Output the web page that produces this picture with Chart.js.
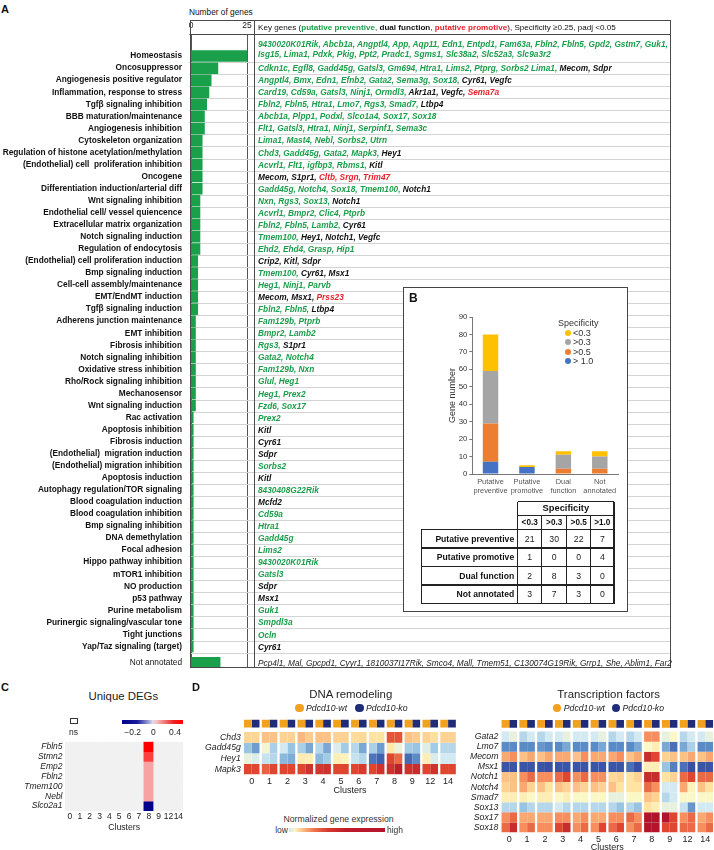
<!DOCTYPE html>
<html><head><meta charset="utf-8">
<script src="https://cdn.jsdelivr.net/npm/chart.js@4.4.1/dist/chart.umd.min.js"></script>
<style>
html,body{margin:0;padding:0;width:714px;height:850px;overflow:hidden;background:#fff;}
body{position:relative;font-family:'Liberation Sans',Arial,Helvetica,sans-serif;color:#111;}
.t{position:absolute;white-space:nowrap;line-height:1;}
canvas{position:absolute;}
.g{color:#1b9e4b}.k{color:#111}.r{color:#e8222e}.n{color:#222;font-weight:normal}
</style></head><body>
<script>
// ---------------- DATA ----------------
const aCategories = ['Homeostasis','Oncosuppressor','Angiogenesis positive regulator','Inflammation, response to stress',
 'Tgf\u03b2 signaling inhibition','BBB maturation/maintenance','Angiogenesis inhibition','Cytoskeleton organization',
 'Regulation of histone acetylation/methylation','(Endothelial) cell  proliferation inhibition','Oncogene',
 'Differentiation induction/arterial diff','Wnt signaling inhibition','Endothelial cell/ vessel quiencence',
 'Extracellular matrix organization','Notch signaling induction','Regulation of endocytosis',
 '(Endothelial) cell proliferation induction','Bmp signaling induction','Cell-cell assembly/maintenance',
 'EMT/EndMT induction','Tgf\u03b2 signaling induction','Adherens junction maintenance','EMT inhibition',
 'Fibrosis inhibition','Notch signaling inhibition','Oxidative stress inhibition','Rho/Rock signaling inhibition',
 'Mechanosensor','Wnt signaling induction','Rac activation','Apoptosis inhibition','Fibrosis induction',
 '(Endothelial)  migration induction','(Endothelial) migration inhibition','Apoptosis induction',
 'Autophagy regulation/TOR signaling','Blood coagulation induction','Blood coagulation inhibition',
 'Bmp signaling inhibition','DNA demethylation','Focal adhesion','Hippo pathway inhibition','mTOR1 inhibition',
 'NO production','p53 pathway','Purine metabolism','Purinergic signaling/vascular tone','Tight junctions',
 'Yap/Taz signaling (target)','Not annotated'];
const aGeneCounts = [25,12,9,8,7,6,6,5,5,5,5,5,4,4,4,4,4,3,3,3,3,3,2,2,2,2,2,2,2,2,
 1,1,1,1,1,1,1,1,1,1,1,1,1,1,1,1,1,1,1,1,13];
const aXTicks = [0, 25];
const aKeyGenes = [
 'g:9430020K01Rik, Abcb1a, Angptl4, App, Aqp11, Edn1, Entpd1, Fam63a, Fbln2, Fbln5, Gpd2, Gstm7, Guk1,\ng:Isg15, Lima1, Pdxk, Pkig, Ppt2, Pradc1, Sgms1, Slc38a2, Slc52a3, Slc9a3r2',
 'g:Cdkn1c, Egfl8, Gadd45g, Gatsl3, Gm694, Htra1, Lims2, Ptprg, Sorbs2 Lima1, |k:Mecom, Sdpr',
 'g:Angptl4, Bmx, Edn1, Efnb2, Gata2, Sema3g, Sox18, |k:Cyr61, Vegfc',
 'g:Card19, Cd59a, Gatsl3, Ninj1, Ormdl3, |k:Akr1a1, Vegfc, |r:Sema7a',
 'g:Fbln2, Fbln5, Htra1, Lmo7, Rgs3, Smad7, |k:Ltbp4',
 'g:Abcb1a, Plpp1, Podxl, Slco1a4, Sox17, Sox18',
 'g:Flt1, Gatsl3, Htra1, Ninj1, Serpinf1, Sema3c',
 'g:Lima1, Mast4, Nebl, Sorbs2, Utrn',
 'g:Chd3, Gadd45g, Gata2, Mapk3, |k:Hey1',
 'g:Acvrl1, Flt1, igfbp3, Rbms1, |k:Kitl',
 'k:Mecom, S1pr1, |r:Cltb, Srgn, Trim47',
 'g:Gadd45g, Notch4, Sox18, Tmem100, |k:Notch1',
 'g:Nxn, Rgs3, Sox13, |k:Notch1',
 'g:Acvrl1, Bmpr2, Clic4, Ptprb',
 'g:Fbln2, Fbln5, Lamb2, |k:Cyr61',
 'g:Tmem100, |k:Hey1, Notch1, Vegfc',
 'g:Ehd2, Ehd4, Grasp, Hip1',
 'k:Crip2, Kitl, Sdpr',
 'g:Tmem100, |k:Cyr61, Msx1',
 'g:Heg1, Ninj1, Parvb',
 'k:Mecom, Msx1, |r:Prss23',
 'g:Fbln2, Fbln5, |k:Ltbp4',
 'g:Fam129b, Ptprb','g:Bmpr2, Lamb2','g:Rgs3, |k:S1pr1','g:Gata2, Notch4','g:Fam129b, Nxn','g:Glul, Heg1',
 'g:Heg1, Prex2','g:Fzd6, Sox17','g:Prex2','k:Kitl','k:Cyr61','k:Sdpr','g:Sorbs2','k:Kitl','g:8430408G22Rik',
 'k:Mcfd2','g:Cd59a','g:Htra1','g:Gadd45g','g:Lims2','g:9430020K01Rik','g:Gatsl3','k:Sdpr','k:Msx1','g:Guk1',
 'g:Smpdl3a','g:Ocln','k:Cyr61',
 'n:Pcp4l1, Mal, Gpcpd1, Cyyr1, 1810037I17Rik, Smco4, Mall, Tmem51, C130074G19Rik, Grrp1, She, Ablim1, Far2'];

const bCategories = [['Putative','preventive'],['Putative','promotive'],['Dual','function'],['Not','annotated']];
const bRowLabels = ['Putative preventive','Putative promotive','Dual function','Not annotated'];
const bColLabels = ['<0.3','>0.3','>0.5','>1.0'];
const bLegendLabels = ['<0.3','>0.3','>0.5','> 1.0'];
const bSpecLt03 = [21,1,2,3];
const bSpecGt03 = [30,0,8,7];
const bSpecGt05 = [22,0,3,3];
const bSpecGt10 = [7,4,0,0];
const bYTicks = [0,10,20,30,40,50,60,70,80,90];

const cGenes = ['Fbln5','Stmn2','Emp2','Fbln2','Tmem100','Nebl','Slco2a1'];
const cClusters = ['0','1','2','3','4','5','6','7','8','9','12','14'];
const cValues = [
 [null,null,null,null,null,null,null,null,0.45,null,null,null],
 [null,null,null,null,null,null,null,null,0.32,null,null,null],
 [null,null,null,null,null,null,null,null,0.12,null,null,null],
 [null,null,null,null,null,null,null,null,0.12,null,null,null],
 [null,null,null,null,null,null,null,null,0.12,null,null,null],
 [null,null,null,null,null,null,null,null,0.12,null,null,null],
 [null,null,null,null,null,null,null,null,-0.25,null,null,null]];
const cBarTicks = ['\u22120.2','0','0.4'];

const dClusters = ['0','1','2','3','4','5','6','7','8','9','12','14'];
const dDnaGenes = ['Chd3','Gadd45g','Hey1','Mapk3'];
const dDnaWt = [
 [6.4,7,6.5,7.2,7,6.5,6.2,6,8.8,7,6.5,6.5],
 [3,4.8,4,3.3,3.5,4.2,3.5,3.3,5.8,3.2,4.3,3.5],
 [4.5,3.8,2.8,5.6,2.8,5.5,3.8,1.6,9,1.4,5.5,4],
 [9,8.6,9,9,9.3,9,9,9,9.4,9.4,9,9]];
const dDnaKo = [
 [6.4,7,6.5,6.7,7,6.5,6.3,6,8.8,6.7,6.1,6.5],
 [2.3,3.3,3,2.5,2.5,3.2,2.5,2.3,4.6,3,3.2,3.5],
 [4.2,3.5,2.6,5.5,3.2,5.3,3.5,1.2,8.5,2,4.2,4],
 [9,9,9,9.4,9.4,9,9.2,9.4,9.8,9.5,9.4,9]];
const dTfGenes = ['Gata2','Lmo7','Mecom','Msx1','Notch1','Notch4','Smad7','Sox13','Sox17','Sox18'];
const dTfWt = [
 [4,3.5,3.5,4,4,4,3.5,3.5,8,4.5,3.5,4],
 [2,2,2.2,2,2,2,2,2,5,2.5,2.5,2],
 [7.5,7,7,7.5,7,7.5,7.5,7,9.5,6.5,7,7],
 [1,1,1,1,1,1,1,1.5,5.5,3,1.5,1],
 [7,8,8,8.5,8,8,6.3,6,9.5,6,8.5,8.5],
 [6.5,7.5,7,7,7,7,7,6,8.5,4,7.5,7],
 [5.5,5.5,5.5,5,5,5,4.5,5,7,3.5,5,5],
 [3.5,3,3.5,4,3.5,3.5,3.5,3.5,6,4.5,3.8,4],
 [8,7.5,7.5,8,7.5,7.5,8,8.5,10,10,8,7.5],
 [8.5,8,8,9,8,8,8.5,8,10,9,8.5,8]];
const dTfKo = [
 [4.5,4,4,4.5,4,4.5,4,4,8,5,4,4.5],
 [2,2,2,2.5,2,2.5,2,2.5,5.5,1.5,3.3,2],
 [8,7.5,7.5,7.5,8,7.5,8,7.5,9,7,7.5,7.5],
 [1,1,0.8,1,1,1,1,0.8,5.5,1.8,0.8,1],
 [7,8.5,8,9,8.5,8,6.5,6.5,9.5,6.5,9,8.5],
 [7,6.5,6,6.5,6.5,6.5,6,6,8,4,5.3,6],
 [5.5,5,5.5,5.5,5,5,4.5,5,6.5,4,5,5],
 [3.5,3.5,3.5,3.5,3.5,3.5,3,3,5.5,4.5,2.2,4],
 [8.5,7.5,7.5,8,8,7.5,8,8,10,9,8.5,8],
 [9.5,8.5,8,9.5,8.5,9,9,8.5,10,9,8.5,8.5]];

// ---------------- HELPERS ----------------
const FONT = "'Liberation Sans', Arial, Helvetica, sans-serif";
Chart.defaults.font.family = FONT;
Chart.defaults.color = '#111';
function addText(content, x, y, o = {}) {
  const d = document.createElement('div');
  d.className = 't';
  if (o.html) d.innerHTML = content; else d.textContent = content;
  const size = o.size || 8.3;
  d.style.left = x + 'px'; d.style.top = y + 'px';
  d.style.fontSize = size + 'px';
  d.style.fontWeight = o.weight || 'normal';
  d.style.fontStyle = o.style || 'normal';
  d.style.color = o.color || '#111';
  d.style.zIndex = o.z || 3;
  const tx = o.align === 'center' ? '-50%' : o.align === 'right' ? '-100%' : '0';
  d.style.transform = `translate(${tx},-50%)`;
  document.body.appendChild(d);
  return d;
}
function addBox(x, y, w, h, css, z) {
  const d = document.createElement('div');
  d.style.cssText = `position:absolute;left:${x}px;top:${y}px;width:${w}px;height:${h}px;z-index:${z||3};` + css;
  document.body.appendChild(d); return d;
}
function hline(x1, x2, y, w, c) { addBox(x1, y - w / 2, x2 - x1, w, `background:${c};`, 7); }
function vline(x, y1, y2, w, c) { addBox(x - w / 2, y1, w, y2 - y1, `background:${c};`, 7); }
function mkCanvas(left, top, w, h, z) {
  const c = document.createElement('canvas');
  c.width = w; c.height = h;
  c.style.left = left + 'px'; c.style.top = top + 'px';
  c.style.width = w + 'px'; c.style.height = h + 'px';
  c.style.zIndex = z;
  document.body.appendChild(c); return c;
}
function hex2rgb(h) { return [1, 3, 5].map(i => parseInt(h.slice(i, i + 2), 16)); }
function mix(a, b, f) {
  const A = hex2rgb(a), B = hex2rgb(b);
  return 'rgb(' + A.map((v, i) => Math.round(v + (B[i] - v) * f)).join(',') + ')';
}
const heatStops = ['#313695','#3a55a6','#5b8bc7','#98c3e1','#d3eaf2','#fbf8c8','#fee3a1','#fcc184','#f68e5d','#df452f','#b1152b'];
function heatColor(v) {
  const t = Math.max(0, Math.min(10, v));
  const i = Math.min(9, Math.floor(t));
  return mix(heatStops[i], heatStops[i + 1], t - i);
}
function cColor(v) {
  if (v === null) return '#f1f1f1';
  if (v >= 0) return mix('#f6dede', '#ff0000', Math.min(1, v / 0.45));
  return mix('#d8d8ee', '#00008b', Math.min(1, -v / 0.25));
}
const noPlugins = { legend: { display: false }, tooltip: { enabled: false } };
const fixW = w => s => { s.width = w; s.paddingTop = 0; s.paddingBottom = 0; };
const fixH = h => s => { s.height = h; s.paddingLeft = 0; s.paddingRight = 0; };

// ---------------- PANEL A ----------------
addText('A', 1, 9, { size: 11, weight: 'bold' });
addText('Number of genes', 189, 12, { size: 8.3 });
const aTopPx = 20, aChartTop = 34, aChartBottom = 668, aLeft = 189.5, aRight = 670;
const zeroPx = 191, pxPerGene = 2.24, rowPx = 12.05, firstRowPx = 56.1;
const aPos = aCategories.map((_, i) => i < aCategories.length - 1 ? i : i + 0.34);
const yMinA = -(firstRowPx - aChartTop) / rowPx;
const yMaxA = yMinA + (aChartBottom - aChartTop) / rowPx;
const xMinA = -(zeroPx - aLeft) / pxPerGene;
const xMaxA = xMinA + (aRight - aLeft) / pxPerGene;
const cA = mkCanvas(0, aTopPx, 672, aChartBottom - aTopPx + 1, 1);
const aFrame = {
  id: 'aFrame',
  beforeDatasetsDraw(chart) {
    const { ctx, chartArea: ca, scales: { y } } = chart;
    ctx.save(); ctx.strokeStyle = '#d3d3d3'; ctx.lineWidth = 1;
    for (let i = 0; i < aPos.length - 1; i++) {
      const py = Math.round(y.getPixelForValue(aPos[i] + 0.5)) + 0.5;
      ctx.beginPath(); ctx.moveTo(ca.left, py); ctx.lineTo(ca.right, py); ctx.stroke();
    }
    ctx.restore();
  },
  afterDraw(chart) {
    const { ctx, chartArea: ca } = chart;
    ctx.save(); ctx.strokeStyle = '#4a4a4a'; ctx.lineWidth = 1;
    ctx.strokeRect(Math.round(ca.left) + 0.5, 0.5, Math.round(ca.right - ca.left) - 1, Math.round(ca.bottom) - 1);
    ctx.beginPath(); ctx.moveTo(ca.left, Math.round(ca.top) + 0.5); ctx.lineTo(ca.right, Math.round(ca.top) + 0.5); ctx.stroke();
    ctx.beginPath(); ctx.moveTo(254.5, 0); ctx.lineTo(254.5, ca.bottom); ctx.stroke();
    ctx.restore();
  }
};
const chartA = new Chart(cA, {
  type: 'bar',
  data: { datasets: [{ data: aGeneCounts.map((v, i) => ({ x: v, y: aPos[i] })), backgroundColor: '#1aa04b', barThickness: 10.8, borderWidth: 0 }] },
  options: {
    indexAxis: 'y', responsive: false, animation: false,
    layout: { padding: { right: 2, bottom: 1 } },
    plugins: noPlugins,
    scales: {
      x: { type: 'linear', position: 'top', min: xMinA, max: xMaxA, offset: false,
        afterBuildTicks: s => { s.ticks = aXTicks.map(v => ({ value: v })); },
        afterFit: fixH(aChartTop - aTopPx),
        ticks: { font: { size: 8.5 }, color: '#222', padding: 3, autoSkip: false, maxRotation: 0 },
        grid: { color: '#555', lineWidth: 1, drawTicks: false, offset: false }, border: { display: false } },
      y: { type: 'linear', reverse: true, min: yMinA, max: yMaxA, offset: false, bounds: 'data',
        afterBuildTicks: s => { s.ticks = aPos.map(v => ({ value: v })); },
        afterFit: fixW(aLeft),
        ticks: { autoSkip: false, padding: 7.5, color: '#111',
          callback: (v, i) => aCategories[i],
          font: c => ({ family: FONT, size: 8.3, weight: c.index === aCategories.length - 1 ? 'normal' : 'bold' }) },
        grid: { display: false, drawTicks: false, offset: false }, border: { display: false } }
    }
  },
  plugins: [aFrame]
});
addText('Key genes (<b class="g">putative preventive</b>, <b class="k">dual function</b>, <b class="r">putative promotive</b>), Specificity \u22650.25, padj &lt;0.05', 258, 27.5, { size: 8.1, html: true });
aKeyGenes.forEach((entry, i) => {
  const yc = aTopPx + chartA.scales.y.getPixelForValue(aPos[i]);
  const lines = entry.split('\n');
  lines.forEach((ln, li) => {
    const html = ln.split('|').map(seg => {
      const k = seg.indexOf(':');
      const cls = seg.slice(0, k), t = seg.slice(k + 1);
      return `<span class="${cls}">${t}</span>`;
    }).join('');
    const y = lines.length > 1 ? yc - 12 + li * 10.3 : yc;
    addText(html, 258, y, { size: 8.3, weight: 'bold', style: 'italic', html: true, z: 2 });
  });
});

// ---------------- PANEL B ----------------
addBox(403, 287, 225, 325, 'background:#fff;border:1.3px solid #444;box-sizing:border-box;', 5);
addText('B', 409, 297.5, { size: 12, weight: 'bold', z: 6 });
const cB = mkCanvas(440, 310, 185, 190, 6);
new Chart(cB, {
  type: 'bar',
  data: { labels: bCategories, datasets: [
    { label: bLegendLabels[3], data: bSpecGt10, backgroundColor: '#4472c4' },
    { label: bLegendLabels[2], data: bSpecGt05, backgroundColor: '#ed7d31' },
    { label: bLegendLabels[1], data: bSpecGt03, backgroundColor: '#a5a5a5' },
    { label: bLegendLabels[0], data: bSpecLt03, backgroundColor: '#ffc000' } ] },
  options: {
    responsive: false, animation: false,
    layout: { padding: { top: 7, right: 7 } },
    datasets: { bar: { categoryPercentage: 0.8, barPercentage: 0.53 } },
    plugins: noPlugins,
    scales: {
      x: { stacked: true, afterFit: fixH(26), grid: { display: false, drawTicks: false }, border: { color: '#777', width: 1 },
        ticks: { font: { size: 7.4 }, color: '#555', padding: 4, maxRotation: 0, autoSkip: false } },
      y: { stacked: true, min: 0, max: 90, afterFit: fixW(32.3),
        afterBuildTicks: s => { s.ticks = bYTicks.map(v => ({ value: v })); },
        ticks: { font: { size: 7.8 }, color: '#333', padding: 2 },
        grid: { drawOnChartArea: false, tickLength: 3, color: '#777' }, border: { color: '#777' },
        title: { display: true, text: 'Gene number', font: { size: 9 }, color: '#333', padding: { top: 7, bottom: 0 } } }
    }
  }
});
addText('Specificity', 558, 322.5, { size: 9, color: '#333', z: 6 });
const bLegCols = ['#ffc000', '#a5a5a5', '#ed7d31', '#4472c4'];
bLegendLabels.forEach((l, i) => {
  const y = 332.7 + i * 9.4;
  addBox(564.7, y - 3, 6, 6, `background:${bLegCols[i]};border-radius:50%;`, 6);
  addText(l, 573, y, { size: 9, color: '#333', z: 6 });
});
const colX = [421.7, 517.7, 541.7, 566.7, 590.7, 614];
const rowH = 18.6, bodyTop = 529.3, bodyBot = bodyTop + 4 * rowH;
const LW = 1.3, LC = '#222';
hline(517.7, 614, 501.7, LW, LC); hline(517.7, 614, 515.3, LW, LC);
for (let k = 0; k <= 4; k++) hline(421.7, 614 + LW / 2, bodyTop + k * rowH, LW, LC);
vline(517.7, 501.7, bodyBot, LW, LC); vline(614, 501.7, bodyBot + LW / 2, LW, LC);
for (let c = 2; c <= 4; c++) vline(colX[c], 515.3, bodyBot, LW, LC);
vline(421.7, bodyTop, bodyBot + LW / 2, LW, LC);
addText('Specificity', (517.7 + 614) / 2, 508.7, { size: 9.3, weight: 'bold', align: 'center', z: 7 });
bColLabels.forEach((l, c) => addText(l, (colX[c + 1] + colX[c + 2]) / 2, 522.5, { size: 8.2, weight: 'bold', align: 'center', z: 7 }));
const bCols = [bSpecLt03, bSpecGt03, bSpecGt05, bSpecGt10];
bRowLabels.forEach((l, r) => {
  const y = bodyTop + rowH * (r + 0.5);
  addText(l, 517.7 - 3.5, y, { size: 8.6, weight: 'bold', align: 'right', z: 7 });
  bCols.forEach((arr, c) => addText(String(arr[r]), (colX[c + 1] + colX[c + 2]) / 2, y, { size: 8.7, align: 'center', z: 7, color: '#222' }));
});

// ---------------- PANEL C ----------------
addText('C', 1, 687, { size: 11, weight: 'bold' });
addText('Unique DEGs', 123.3, 697, { size: 11.4, align: 'center', color: '#222' });
addBox(69.5, 718, 8, 6, 'border:1px solid #333;box-sizing:border-box;', 3);
addText('ns', 73.5, 731.5, { size: 8.5, align: 'center', color: '#222' });
addBox(121.7, 719.5, 61, 4.5, 'background:linear-gradient(to right,#00008b 0%,#1a1a99 25%,#3d3dad 30%,#b8bde0 47%,#dcdcec 50%,#f4caca 55%,#f28080 68%,#f02020 85%,#ff0000 100%);', 3);
const cBarPos = [132.7, 153.3, 175];
cBarTicks.forEach((t, i) => addText(t, cBarPos[i], 731.7, { size: 8.5, align: 'center', color: '#222' }));
const cC = mkCanvas(0, 736, 190, 100, 2);
new Chart(cC, {
  type: 'bar',
  data: { labels: cClusters, datasets: cGenes.map((g, r) => ({ data: cClusters.map(() => 1), backgroundColor: cValues[r].map(cColor), borderWidth: 0 })) },
  options: {
    responsive: false, animation: false,
    layout: { padding: { top: 5.7, right: 6.7 } },
    datasets: { bar: { categoryPercentage: 1, barPercentage: 1 } },
    plugins: noPlugins,
    scales: {
      x: { stacked: true, afterFit: fixH(25), grid: { display: false, drawTicks: false }, border: { display: false },
        ticks: { font: { size: 8.5 }, color: '#222', padding: 1, maxRotation: 0, autoSkip: false },
        title: { display: true, text: 'Clusters', font: { size: 8.7 }, color: '#222', padding: { top: 0, bottom: 3 } } },
      y: { stacked: true, reverse: true, min: 0, max: cGenes.length, afterFit: fixW(65),
        afterBuildTicks: s => { s.ticks = cGenes.map((g, r) => ({ value: r + 0.5 })); },
        ticks: { autoSkip: false, padding: 2.5, color: '#222', font: { size: 8.5, style: 'italic' }, callback: (v, i) => cGenes[i] },
        grid: { display: false, drawTicks: false }, border: { display: false } }
    }
  }
});

// ---------------- PANEL D ----------------
addText('D', 192, 687, { size: 11, weight: 'bold' });
const dWtColor = '#f2a11f', dKoColor = '#212c78';
function makeD(cv, genes, wt, ko, hdr, gap, yWidth, xHeight, padTop, padRight, tickPad) {
  const datasets = [];
  [['wt', wt, dWtColor], ['ko', ko, dKoColor]].forEach(([st, vals, col]) => {
    datasets.push({ stack: st, data: dClusters.map(() => hdr), backgroundColor: col });
    datasets.push({ stack: st, data: dClusters.map(() => gap), backgroundColor: 'rgba(0,0,0,0)' });
    genes.forEach((g, r) => datasets.push({ stack: st, data: dClusters.map(() => 1), backgroundColor: vals[r].map(heatColor) }));
  });
  return new Chart(cv, {
    type: 'bar',
    data: { labels: dClusters, datasets },
    options: {
      responsive: false, animation: false,
      layout: { padding: { top: padTop, right: padRight } },
      datasets: { bar: { categoryPercentage: 0.87, barPercentage: 1, borderWidth: 0 } },
      plugins: noPlugins,
      scales: {
        x: { stacked: true, afterFit: fixH(xHeight), grid: { display: false, drawTicks: false }, border: { display: false },
          ticks: { font: { size: 9 }, color: '#222', padding: tickPad, maxRotation: 0, autoSkip: false },
          title: { display: true, text: 'Clusters', font: { size: 9 }, color: '#222', padding: { top: 0, bottom: 1 } } },
        y: { stacked: true, reverse: true, min: 0, max: hdr + gap + genes.length, afterFit: fixW(yWidth),
          afterBuildTicks: s => { s.ticks = genes.map((g, r) => ({ value: hdr + gap + r + 0.5 })); },
          ticks: { autoSkip: false, padding: 2, color: '#222', font: { size: 8.7, style: 'italic' }, callback: (v, i) => genes[i] },
          grid: { display: false, drawTicks: false }, border: { display: false } }
      }
    }
  });
}
addText('DNA remodeling', 350.8, 695, { size: 11.4, align: 'center', color: '#222' });
function dLegend(xo, xk) {
  addBox(xo - 4.2, 708 - 4.2, 8.4, 8.4, `background:${dWtColor};border-radius:50%;`, 3);
  addText('Pdcd10-wt', xo + 6.5, 708, { size: 8.7, style: 'italic', color: '#222' });
  addBox(xk - 4.2, 708 - 4.2, 8.4, 8.4, `background:${dKoColor};border-radius:50%;`, 3);
  addText('Pdcd10-ko', xk + 6.5, 708, { size: 8.7, style: 'italic', color: '#222' });
}
dLegend(299.5, 359.5);
const cD1 = mkCanvas(195, 714, 264, 83, 2);
makeD(cD1, dDnaGenes, dDnaWt, dDnaKo, 0.76, 0.43, 47.8, 22.5, 5.5, 2, 1.6);
addText('Normalized gene expression', 338.5, 819, { size: 8.7, align: 'center', color: '#333' });
addBox(288.7, 827.5, 96.3, 4.8, 'background:linear-gradient(to right,#cfe8f2 0%,#fdf6c6 6%,#fbc186 14%,#f0764f 26%,#d73a30 40%,#c0192b 60%,#b5152b 100%);', 3);
addText('low', 288, 830, { size: 8.5, align: 'right', color: '#333' });
addText('high', 387, 830, { size: 8.5, color: '#333' });
addText('Transcription factors', 608.7, 694.5, { size: 11.4, align: 'center', color: '#222' });
dLegend(557.3, 616);
const cD2 = mkCanvas(455, 714, 262, 140, 2);
makeD(cD2, dTfGenes, dTfWt, dTfKo, 0.77, 0.38, 45.4, 21.5, 6, 2.8, 1.4);
</script>
</body></html>
